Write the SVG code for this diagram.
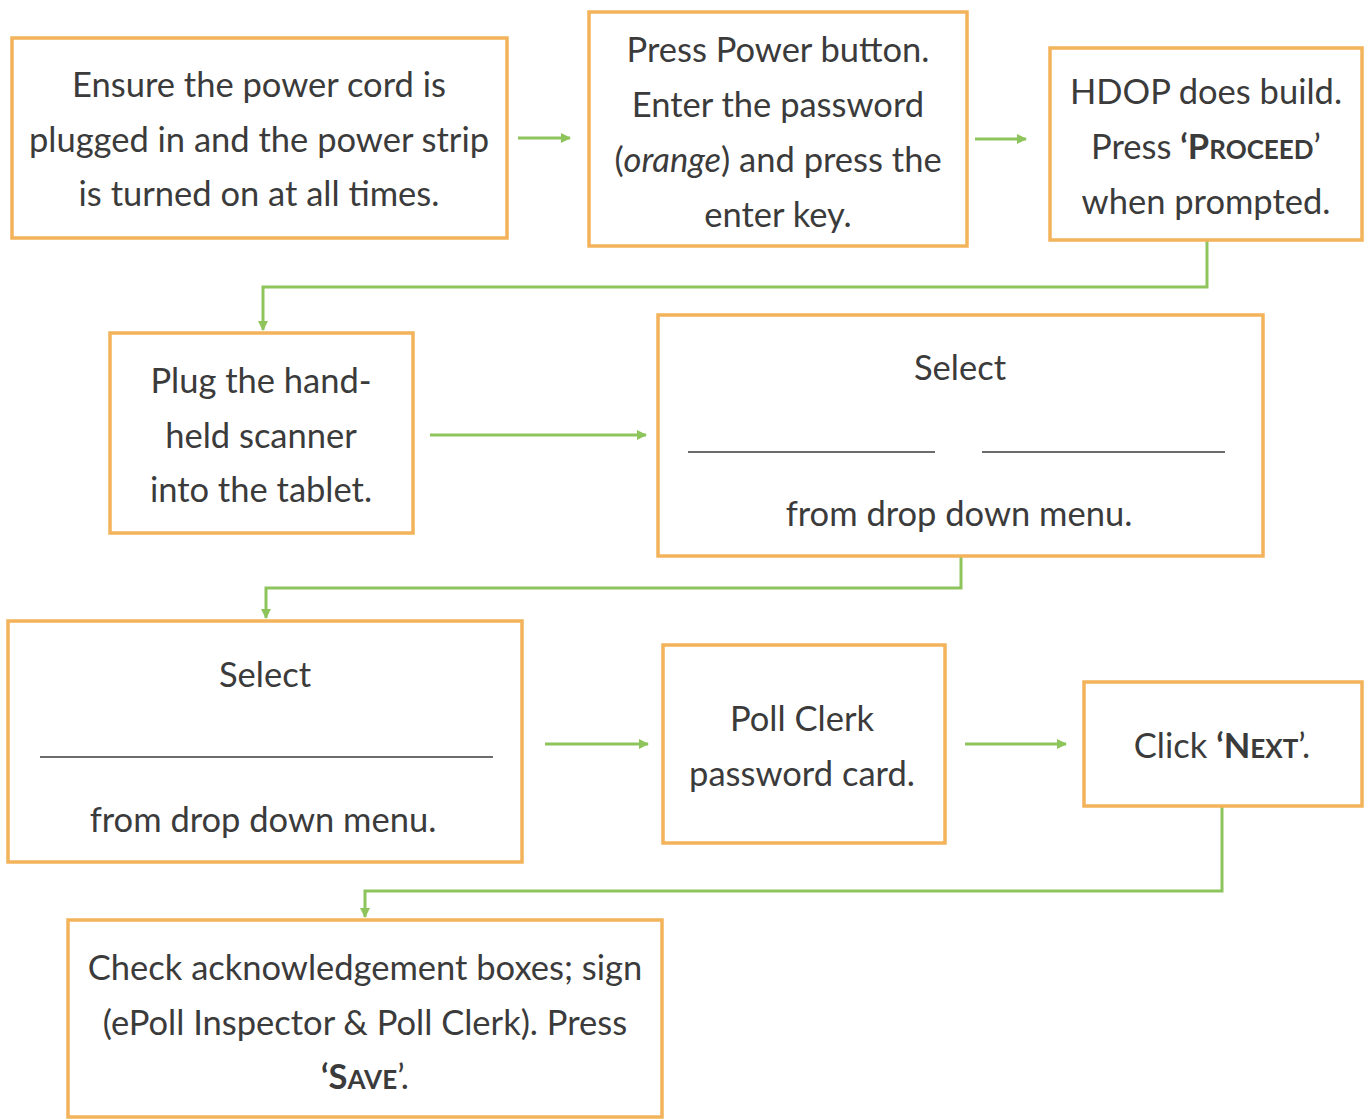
<svg xmlns="http://www.w3.org/2000/svg" width="1367" height="1119" viewBox="0 0 1367 1119">
  <defs>
    <marker id="arrow" viewBox="0 0 10 10" refX="9" refY="5" markerWidth="10" markerHeight="10" markerUnits="userSpaceOnUse" orient="auto">
      <path d="M0,0 L10,5 L0,10 z" fill="#8DC45C"/>
    </marker>
    <style>
      .box { fill: #ffffff; stroke: #F3B35A; stroke-width: 3.5; }
      .t { font-family: "Lato", "Open Sans", "Liberation Sans", sans-serif; font-size: 34.5px; fill: #3b3b3b; text-anchor: middle; }
      .b { font-weight: bold; }
      .sc { font-size: 26px; }
      .blank { stroke: #3b3b3b; stroke-width: 1.5; }
      .conn { fill: none; stroke: #8DC45C; stroke-width: 3; }
    </style>
  </defs>
  <rect width="1367" height="1119" fill="#ffffff"/>

  <!-- connectors -->
  <g id="connectors">
    <line class="conn" x1="518" y1="138" x2="570" y2="138" marker-end="url(#arrow)"/>
    <line class="conn" x1="975" y1="139" x2="1026" y2="139" marker-end="url(#arrow)"/>
    <polyline class="conn" points="1207,240 1207,287 263,287 263,330" marker-end="url(#arrow)"/>
    <line class="conn" x1="430" y1="435" x2="646" y2="435" marker-end="url(#arrow)"/>
    <polyline class="conn" points="961,556 961,588 266,588 266,618" marker-end="url(#arrow)"/>
    <line class="conn" x1="545" y1="744" x2="648" y2="744" marker-end="url(#arrow)"/>
    <line class="conn" x1="965" y1="744" x2="1066" y2="744" marker-end="url(#arrow)"/>
    <polyline class="conn" points="1222,806 1222,891 365,891 365,917" marker-end="url(#arrow)"/>
  </g>

  <g id="power-cord">
    <rect class="box" x="12" y="38" width="495" height="200"/>
    <text class="t" x="259" y="97">Ensure the power cord is</text>
    <text class="t" x="259" y="152">plugged in and the power strip</text>
    <text class="t" x="259" y="206">is turned on at all times.</text>
  </g>

  <g id="power-button">
    <rect class="box" x="589" y="12" width="378" height="234"/>
    <text class="t" x="778" y="62">Press Power button.</text>
    <text class="t" x="778" y="117">Enter the password</text>
    <text class="t" x="778" y="172">(<tspan font-style="italic">orange</tspan>) and press the</text>
    <text class="t" x="778" y="227">enter key.</text>
  </g>

  <g id="hdop-build">
    <rect class="box" x="1050" y="48" width="312" height="192"/>
    <text class="t" x="1206" y="104">HDOP does build.</text>
    <text class="t" x="1206" y="159">Press <tspan class="b">‘P<tspan class="sc">ROCEED</tspan></tspan>’</text>
    <text class="t" x="1206" y="214">when prompted.</text>
  </g>

  <g id="scanner">
    <rect class="box" x="110" y="333" width="303" height="200"/>
    <text class="t" x="261" y="393">Plug the hand-</text>
    <text class="t" x="261" y="448">held scanner</text>
    <text class="t" x="261" y="502">into the tablet.</text>
  </g>

  <g id="select-two">
    <rect class="box" x="658" y="315" width="605" height="241"/>
    <text class="t" x="960" y="380">Select</text>
    <line class="blank" x1="688" y1="452" x2="935" y2="452"/>
    <line class="blank" x1="982" y1="452" x2="1225" y2="452"/>
    <text class="t" x="959" y="526">from drop down menu.</text>
  </g>

  <g id="select-one">
    <rect class="box" x="8" y="621" width="514" height="241"/>
    <text class="t" x="265" y="687">Select</text>
    <line class="blank" x1="40" y1="757" x2="493" y2="757"/>
    <text class="t" x="263" y="832">from drop down menu.</text>
  </g>

  <g id="password-card">
    <rect class="box" x="663" y="645" width="282" height="198"/>
    <text class="t" x="802" y="731">Poll Clerk</text>
    <text class="t" x="802" y="786">password card.</text>
  </g>

  <g id="click-next">
    <rect class="box" x="1084" y="682" width="278" height="124"/>
    <text class="t" x="1222" y="758">Click <tspan class="b">‘N<tspan class="sc">EXT</tspan></tspan>’.</text>
  </g>

  <g id="acknowledge">
    <rect class="box" x="68" y="920" width="594" height="197"/>
    <text class="t" x="365" y="980">Check acknowledgement boxes; sign</text>
    <text class="t" x="365" y="1035">(ePoll Inspector &amp; Poll Clerk). Press</text>
    <text class="t" x="365" y="1089"><tspan class="b">‘S<tspan class="sc">AVE</tspan></tspan>’.</text>
  </g>
</svg>
